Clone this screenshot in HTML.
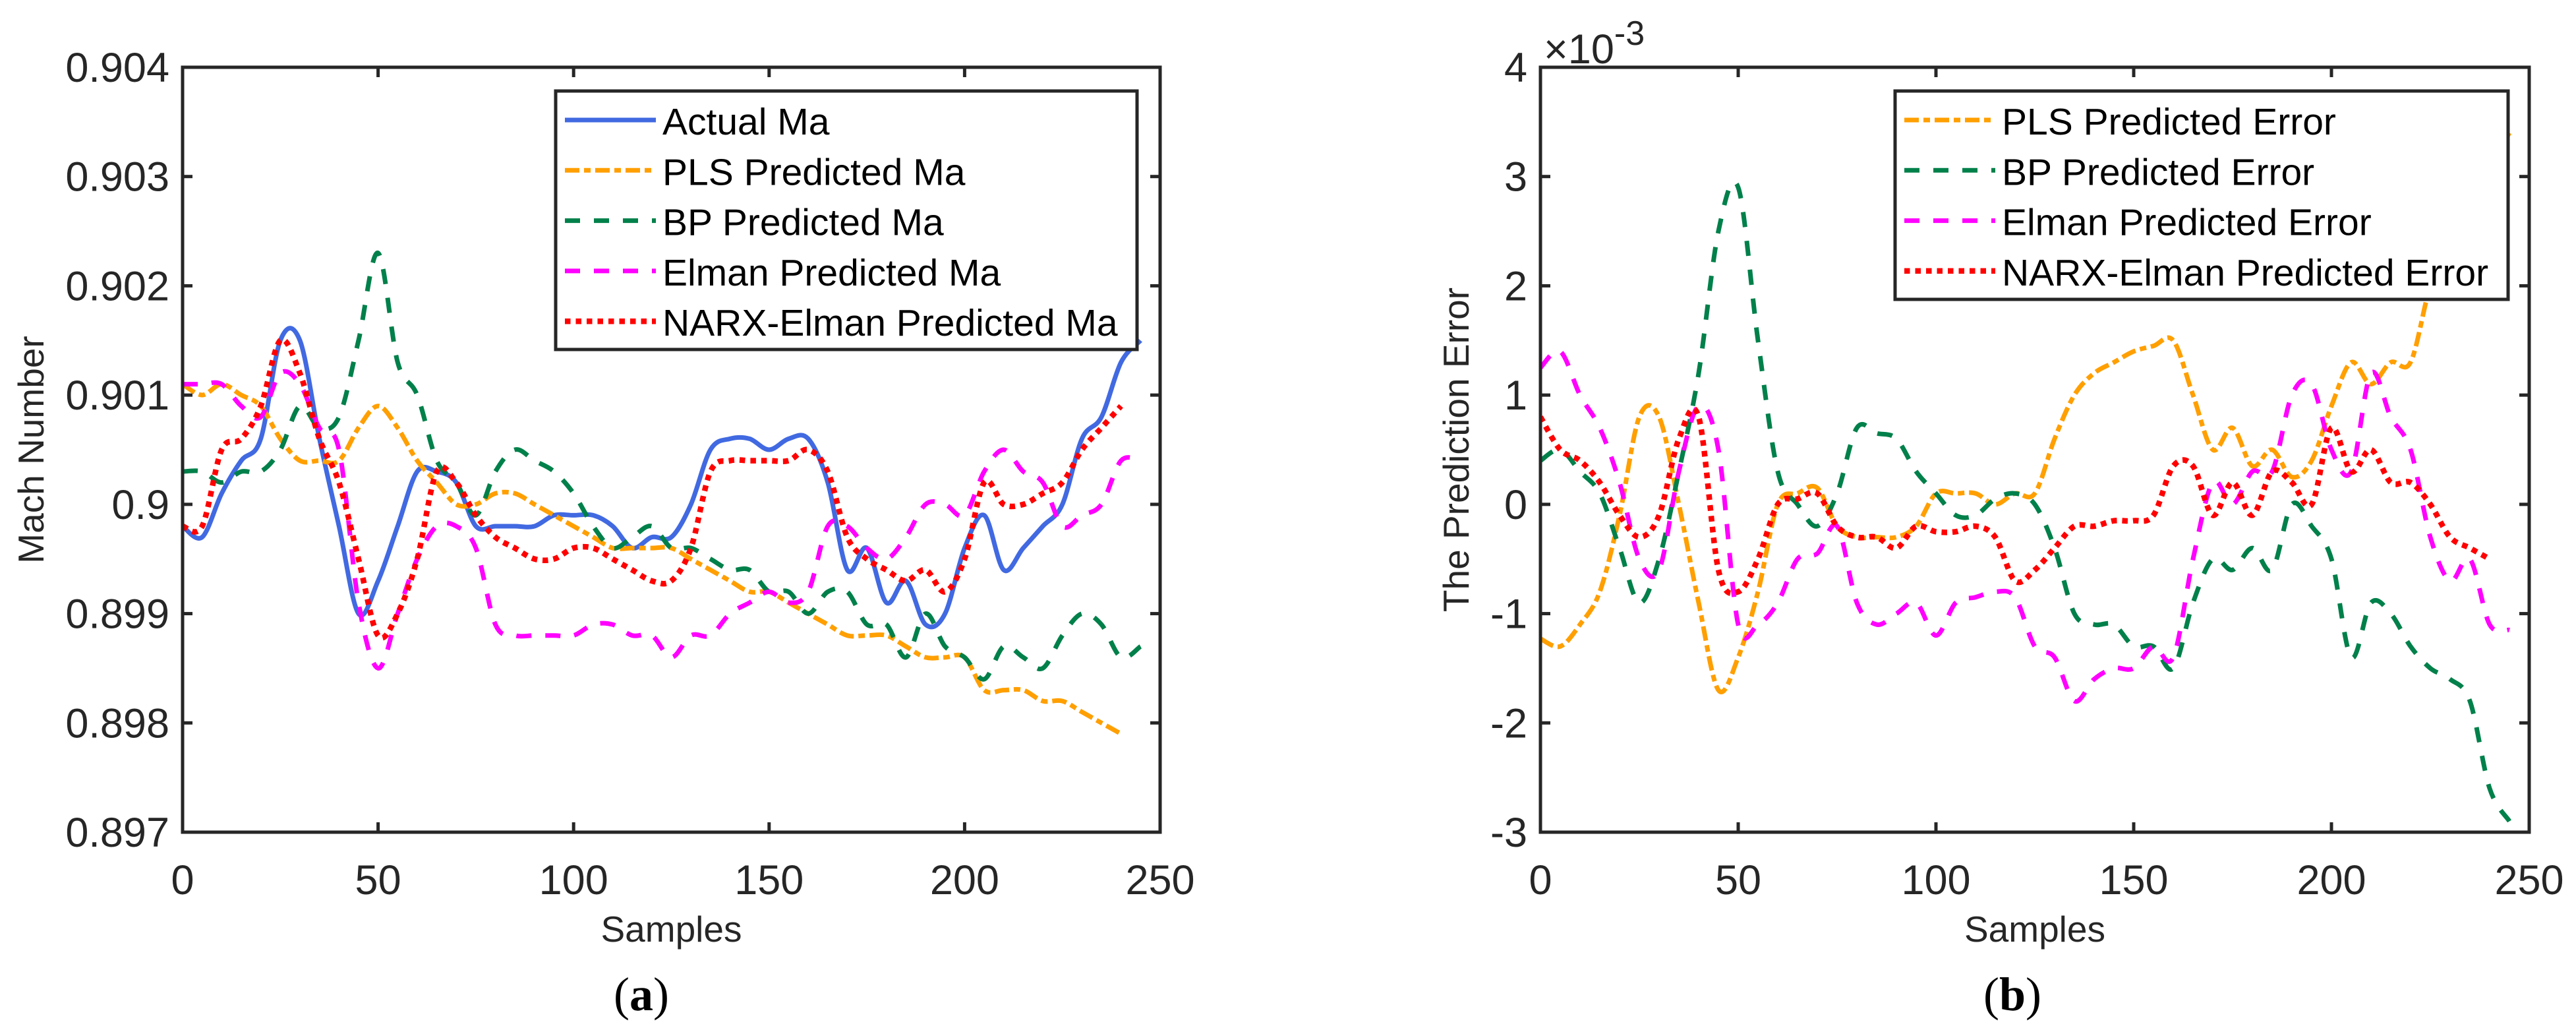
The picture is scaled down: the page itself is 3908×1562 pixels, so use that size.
<!DOCTYPE html>
<html><head><meta charset="utf-8"><style>
html,body{margin:0;padding:0;background:#fff;}
svg{display:block;font-family:"Liberation Sans",Arial,sans-serif;}
</style></head><body>
<svg id="fig" width="3908" height="1562" viewBox="0 0 3908 1562" xmlns="http://www.w3.org/2000/svg"></svg>
<script>
// ---- data (panel a) ----
const samplesStep = 5;
const xTicks = [0, 50, 100, 150, 200, 250];
const yTicksA = [0.897, 0.898, 0.899, 0.900, 0.901, 0.902, 0.903, 0.904];
const yTickLabelsA = ["0.897","0.898","0.899","0.9","0.901","0.902","0.903","0.904"];
const actualMa = [0.8998,0.8997,0.9001,0.9004,0.9006,0.9015,0.9015,0.9006,0.8998,0.8990,0.8993,0.8998,0.9003,0.9003,0.9002,0.8998,0.8998,0.8998,0.8998,0.8999,0.8999,0.8999,0.8998,0.8996,0.8997,0.8997,0.9000,0.9005,0.9006,0.9006,0.9005,0.9006,0.9006,0.9002,0.8994,0.8996,0.8991,0.8993,0.8989,0.8990,0.8996,0.8999,0.8994,0.8996,0.8998,0.9000,0.9006,0.9008,0.9013,0.9015];
const plsMa = [0.9011,0.9010,0.9011,0.9010,0.9009,0.9006,0.9004,0.9004,0.9004,0.9007,0.9009,0.9007,0.9004,0.9002,0.9000,0.9000,0.9001,0.9001,0.9000,0.8999,0.8998,0.8997,0.8996,0.8996,0.8996,0.8996,0.8995,0.8994,0.8993,0.8992,0.8992,0.8991,0.8990,0.8989,0.8988,0.8988,0.8988,0.8987,0.8986,0.8986,0.8986,0.8983,0.8983,0.8983,0.8982,0.8982,0.8981,0.8980,0.8979];
const bpMa = [0.9003,0.9003,0.9002,0.9003,0.9003,0.9005,0.9009,0.9007,0.9008,0.9015,0.9023,0.9013,0.9010,0.9004,0.9002,0.8999,0.9003,0.9005,0.9004,0.9003,0.9001,0.8998,0.8996,0.8997,0.8998,0.8996,0.8996,0.8995,0.8994,0.8994,0.8992,0.8992,0.8990,0.8992,0.8992,0.8989,0.8989,0.8986,0.8990,0.8987,0.8986,0.8984,0.8987,0.8986,0.8985,0.8988,0.8990,0.8989,0.8986,0.8987];
const elmanMa = [0.9011,0.9011,0.9011,0.9009,0.9008,0.9012,0.9011,0.9007,0.9005,0.8991,0.8985,0.8990,0.8995,0.8998,0.8998,0.8996,0.8989,0.8988,0.8988,0.8988,0.8988,0.8989,0.8989,0.8988,0.8988,0.8986,0.8988,0.8988,0.8990,0.8991,0.8992,0.8991,0.8992,0.8998,0.8998,0.8996,0.8995,0.8997,0.9000,0.9000,0.8999,0.9003,0.9005,0.9003,0.9002,0.8998,0.8999,0.9000,0.9004,0.9004];
const narxMa = [0.8998,0.8998,0.9005,0.9006,0.9009,0.9015,0.9012,0.9006,0.9002,0.8995,0.8988,0.8990,0.8995,0.9003,0.9002,0.8999,0.8997,0.8996,0.8995,0.8995,0.8996,0.8996,0.8995,0.8994,0.8993,0.8993,0.8996,0.9003,0.9004,0.9004,0.9004,0.9004,0.9005,0.9003,0.8997,0.8995,0.8994,0.8993,0.8994,0.8992,0.8995,0.9002,0.9000,0.9000,0.9001,0.9002,0.9005,0.9007,0.9009];
// ---- data (panel b, x1e-3) ----
const yTicksB = [-3,-2,-1,0,1,2,3,4];
const yTickLabelsB = ["-3","-2","-1","0","1","2","3","4"];
const plsErr = [-1.23,-1.3,-1.1,-0.8,-0.1,0.8,0.8,0.0,-0.9,-1.7,-1.4,-0.8,0.0,0.1,0.15,-0.2,-0.3,-0.3,-0.3,-0.2,0.1,0.1,0.1,0.0,0.1,0.1,0.6,1.0,1.2,1.3,1.4,1.45,1.5,1.0,0.5,0.7,0.35,0.5,0.25,0.4,0.9,1.3,1.1,1.3,1.3,2.0,2.4,2.8,3.1,3.4];
const bpErr = [0.4,0.5,0.3,0.1,-0.4,-0.9,-0.5,0.3,1.2,2.5,2.9,1.5,0.3,0.0,-0.2,0.1,0.7,0.65,0.6,0.3,0.1,-0.1,-0.1,0.05,0.1,0.0,-0.4,-1.0,-1.1,-1.1,-1.3,-1.3,-1.5,-0.9,-0.5,-0.6,-0.4,-0.6,0.0,-0.2,-0.5,-1.4,-0.9,-1.0,-1.3,-1.5,-1.6,-1.8,-2.6,-2.9];
const elmanErr = [1.25,1.4,1.0,0.7,0.2,-0.5,-0.6,0.3,0.9,0.5,-1.1,-1.1,-0.9,-0.5,-0.45,-0.2,-0.9,-1.1,-1.0,-0.9,-1.2,-0.9,-0.85,-0.8,-0.85,-1.3,-1.4,-1.8,-1.6,-1.5,-1.5,-1.3,-1.4,-0.5,0.2,0.0,0.3,0.3,1.0,1.1,0.5,0.3,1.2,0.8,0.5,-0.3,-0.7,-0.5,-1.1,-1.15];
const narxErr = [0.8,0.5,0.4,0.2,-0.1,-0.3,-0.1,0.6,0.8,-0.6,-0.8,-0.5,0.0,0.05,0.1,-0.2,-0.3,-0.3,-0.4,-0.2,-0.25,-0.25,-0.2,-0.3,-0.7,-0.6,-0.4,-0.2,-0.2,-0.15,-0.15,-0.1,0.35,0.35,-0.1,0.2,-0.1,0.3,0.2,0.0,0.7,0.3,0.5,0.2,0.2,0.0,-0.3,-0.4,-0.5];

const NS = "http://www.w3.org/2000/svg";
const svg = document.getElementById('fig');
function mk(tag, attrs, parent){ const e=document.createElementNS(NS,tag); for(const k in attrs) e.setAttribute(k,attrs[k]); (parent||svg).appendChild(e); return e; }

const styles = {
  blue:{stroke:"#4169E1",dash:null,w:7},
  orange:{stroke:"#FF9F00",dash:"22 7 10 7",w:7},
  green:{stroke:"#00804A",dash:"23 21",w:7},
  magenta:{stroke:"#FF00FF",dash:"23 21",w:7},
  red:{stroke:"#FF0000",dash:"8.5 8",w:8.5}
};

function smoothPath(p){
  let d = 'M'+p[0][0].toFixed(1)+','+p[0][1].toFixed(1);
  for(let i=0;i<p.length-1;i++){
    const p0=p[Math.max(0,i-1)], p1=p[i], p2=p[i+1], p3=p[Math.min(p.length-1,i+2)];
    const c1x=p1[0]+(p2[0]-p0[0])/6, c1y=p1[1]+(p2[1]-p0[1])/6;
    const c2x=p2[0]-(p3[0]-p1[0])/6, c2y=p2[1]-(p3[1]-p1[1])/6;
    d+=' C'+c1x.toFixed(1)+','+c1y.toFixed(1)+' '+c2x.toFixed(1)+','+c2y.toFixed(1)+' '+p2[0].toFixed(1)+','+p2[1].toFixed(1);
  }
  return d;
}

function panel(cfg){
  const g = mk('g',{});
  
  
  const L=cfg.L,R=cfg.R,T=cfg.T,B=cfg.B;
  const xs = v => L + (v-0)/(250-0)*(R-L);
  const ys = v => B - (v-cfg.ymin)/(cfg.ymax-cfg.ymin)*(B-T);
  const cid = cfg.name+'-clip';
  const defs = mk('defs',{},g);
  const cp = mk('clipPath',{id:cid},defs);
  mk('rect',{x:L,y:T,width:R-L,height:B-T},cp);
  cfg.series.forEach(s=>{
    const st = styles[s.style];
    const pts = s.values.map((v,i)=>[xs(i*samplesStep), ys(v)]);
    const pl = mk('path',{d:smoothPath(pts),fill:'none',stroke:st.stroke,'stroke-width':st.w,'stroke-linejoin':'round','clip-path':'url(#'+cid+')'},g);
    if(st.dash) pl.setAttribute('stroke-dasharray',st.dash);
    
    
  });
  const box = mk('rect',{x:L,y:T,width:R-L,height:B-T,fill:'none',stroke:'#262626','stroke-width':5},g);
  
  
  xTicks.forEach(t=>{
    const x = xs(t);
    mk('line',{x1:x,y1:B,x2:x,y2:B-15,stroke:'#262626','stroke-width':5},g);
    mk('line',{x1:x,y1:T,x2:x,y2:T+15,stroke:'#262626','stroke-width':5},g);
    const tx = mk('text',{x:x,y:B+94,'font-size':63,'text-anchor':'middle',fill:'#262626'},g);
    tx.textContent = t;
    
    
  });
  cfg.yTicks.forEach((t,i)=>{
    const y = ys(t);
    mk('line',{x1:L,y1:y,x2:L+15,y2:y,stroke:'#262626','stroke-width':5},g);
    mk('line',{x1:R,y1:y,x2:R-15,y2:y,stroke:'#262626','stroke-width':5},g);
    const tx = mk('text',{x:L-20,y:y+22,'font-size':63,'text-anchor':'end',fill:'#262626'},g);
    tx.textContent = cfg.yLabels[i];
    
    
  });
  const xl = mk('text',{x:(L+R)/2,y:1428,'font-size':55,'text-anchor':'middle',fill:'#262626'},g);
  xl.textContent='Samples';
  
  
  const yl = mk('text',{x:0,y:0,'font-size':55,'text-anchor':'middle',fill:'#262626',transform:'translate('+cfg.yTitleX+','+((T+B)/2)+') rotate(-90)'},g);
  yl.textContent=cfg.yTitle;
  
  
  const lg = mk('g',{},g);
  
  
  mk('rect',{x:cfg.lgX,y:138,width:cfg.lgW,height:cfg.lgH,fill:'#fff',stroke:'#262626','stroke-width':5},lg);
  cfg.series.forEach((s,i)=>{
    const st = styles[s.style];
    const cy = 182 + i*76.3;
    const ln = mk('line',{x1:cfg.lgX+14,y1:cy,x2:cfg.lgX+152,y2:cy,stroke:st.stroke,'stroke-width':st.w},lg);
    if(st.dash) ln.setAttribute('stroke-dasharray',st.dash);
    const tx = mk('text',{x:cfg.lgX+162,y:cy+22,'font-size':57,fill:'#000'},lg);
    tx.textContent = s.label;
    
    
  });
  const cap = mk('text',{x:cfg.capX,y:1532,'font-size':72,'text-anchor':'middle',fill:'#000','font-family':'"Liberation Serif",serif'},g);
  cap.innerHTML = '(<tspan font-weight="bold">'+cfg.cap+'</tspan>)';
  
  
  return g;
}

panel({name:'panel-a',L:277,R:1760,T:102,B:1262,ymin:0.897,ymax:0.904,yTicks:yTicksA,yLabels:yTickLabelsA,
  yTitle:'Mach Number',yTitleX:66,lgX:843,lgW:882,lgH:392,capX:973,cap:'a',
  series:[
    {name:'actual-ma-line',style:'blue',values:actualMa,label:'Actual Ma'},
    {name:'pls-ma-line',style:'orange',values:plsMa,label:'PLS Predicted Ma'},
    {name:'bp-ma-line',style:'green',values:bpMa,label:'BP Predicted Ma'},
    {name:'elman-ma-line',style:'magenta',values:elmanMa,label:'Elman Predicted Ma'},
    {name:'narx-elman-ma-line',style:'red',values:narxMa,label:'NARX-Elman Predicted Ma'}
  ]});
const gb = panel({name:'panel-b',L:2337,R:3837,T:102,B:1262,ymin:-3,ymax:4,yTicks:yTicksB,yLabels:yTickLabelsB,
  yTitle:'The Prediction Error',yTitleX:2228,lgX:2875,lgW:930,lgH:316,capX:3053,cap:'b',
  series:[
    {name:'pls-error-line',style:'orange',values:plsErr,label:'PLS Predicted Error'},
    {name:'bp-error-line',style:'green',values:bpErr,label:'BP Predicted Error'},
    {name:'elman-error-line',style:'magenta',values:elmanErr,label:'Elman Predicted Error'},
    {name:'narx-elman-error-line',style:'red',values:narxErr,label:'NARX-Elman Predicted Error'}
  ]});
const ex = mk('text',{x:2342,y:96,'font-size':63,fill:'#262626'},gb);
ex.innerHTML = '×10<tspan dy="-28" font-size="52">-3</tspan>';


</script>
</body></html>
